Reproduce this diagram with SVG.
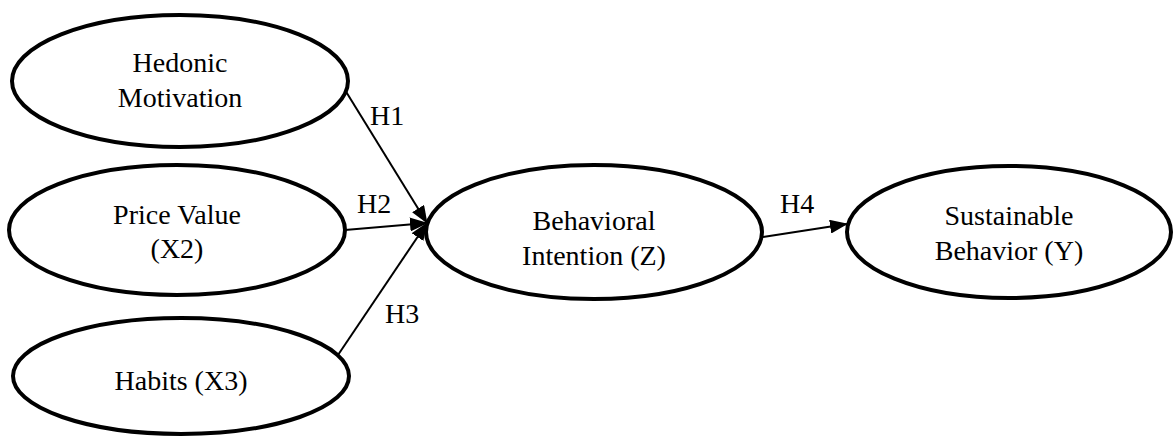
<svg xmlns="http://www.w3.org/2000/svg" width="1176" height="436" viewBox="0 0 1176 436">
<style>
.node ellipse{fill:#fff;stroke:#000;stroke-width:4}
text{font-family:"Liberation Serif","Times New Roman",serif;font-size:28px;fill:#000}
.c{text-anchor:middle}
.edge{stroke:#000;stroke-width:2;fill:none;marker-end:url(#ah)}
</style>
<defs>
<marker id="ah" markerUnits="userSpaceOnUse" markerWidth="18" markerHeight="14" viewBox="0 0 18 14" refX="17" refY="7" orient="auto">
<path d="M0,0 L18,7 L0,14 Z" fill="#000"/>
</marker>
</defs>
<rect width="1176" height="436" fill="#fff"/>
<g id="connectors">
<line class="edge" x1="345" y1="90" x2="427" y2="223"/>
<line class="edge" x1="345" y1="230" x2="427" y2="223"/>
<line class="edge" x1="338" y1="355" x2="427" y2="223"/>
<line class="edge" x1="763" y1="237" x2="847" y2="224"/>
<text x="370" y="125">H1</text>
<text x="357" y="213">H2</text>
<text x="385" y="323">H3</text>
<text x="780" y="213">H4</text>
</g>
<g id="hedonic" class="node">
<ellipse cx="180" cy="81" rx="168" ry="66"/>
<text class="c" x="180" y="72">Hedonic</text>
<text class="c" x="180" y="107">Motivation</text>
</g>
<g id="price" class="node">
<ellipse cx="177" cy="230" rx="168" ry="65"/>
<text class="c" x="177" y="224">Price Value</text>
<text class="c" x="177" y="258">(X2)</text>
</g>
<g id="habits" class="node">
<ellipse cx="181" cy="376" rx="168" ry="58"/>
<text class="c" x="181" y="390">Habits (X3)</text>
</g>
<g id="behavioral" class="node">
<ellipse cx="594" cy="232" rx="168" ry="67"/>
<text class="c" x="594" y="230">Behavioral</text>
<text class="c" x="594" y="265">Intention (Z)</text>
</g>
<g id="sustainable" class="node">
<ellipse cx="1009" cy="232" rx="162" ry="66"/>
<text class="c" x="1009" y="225">Sustainable</text>
<text class="c" x="1009" y="260">Behavior (Y)</text>
</g>
</svg>
